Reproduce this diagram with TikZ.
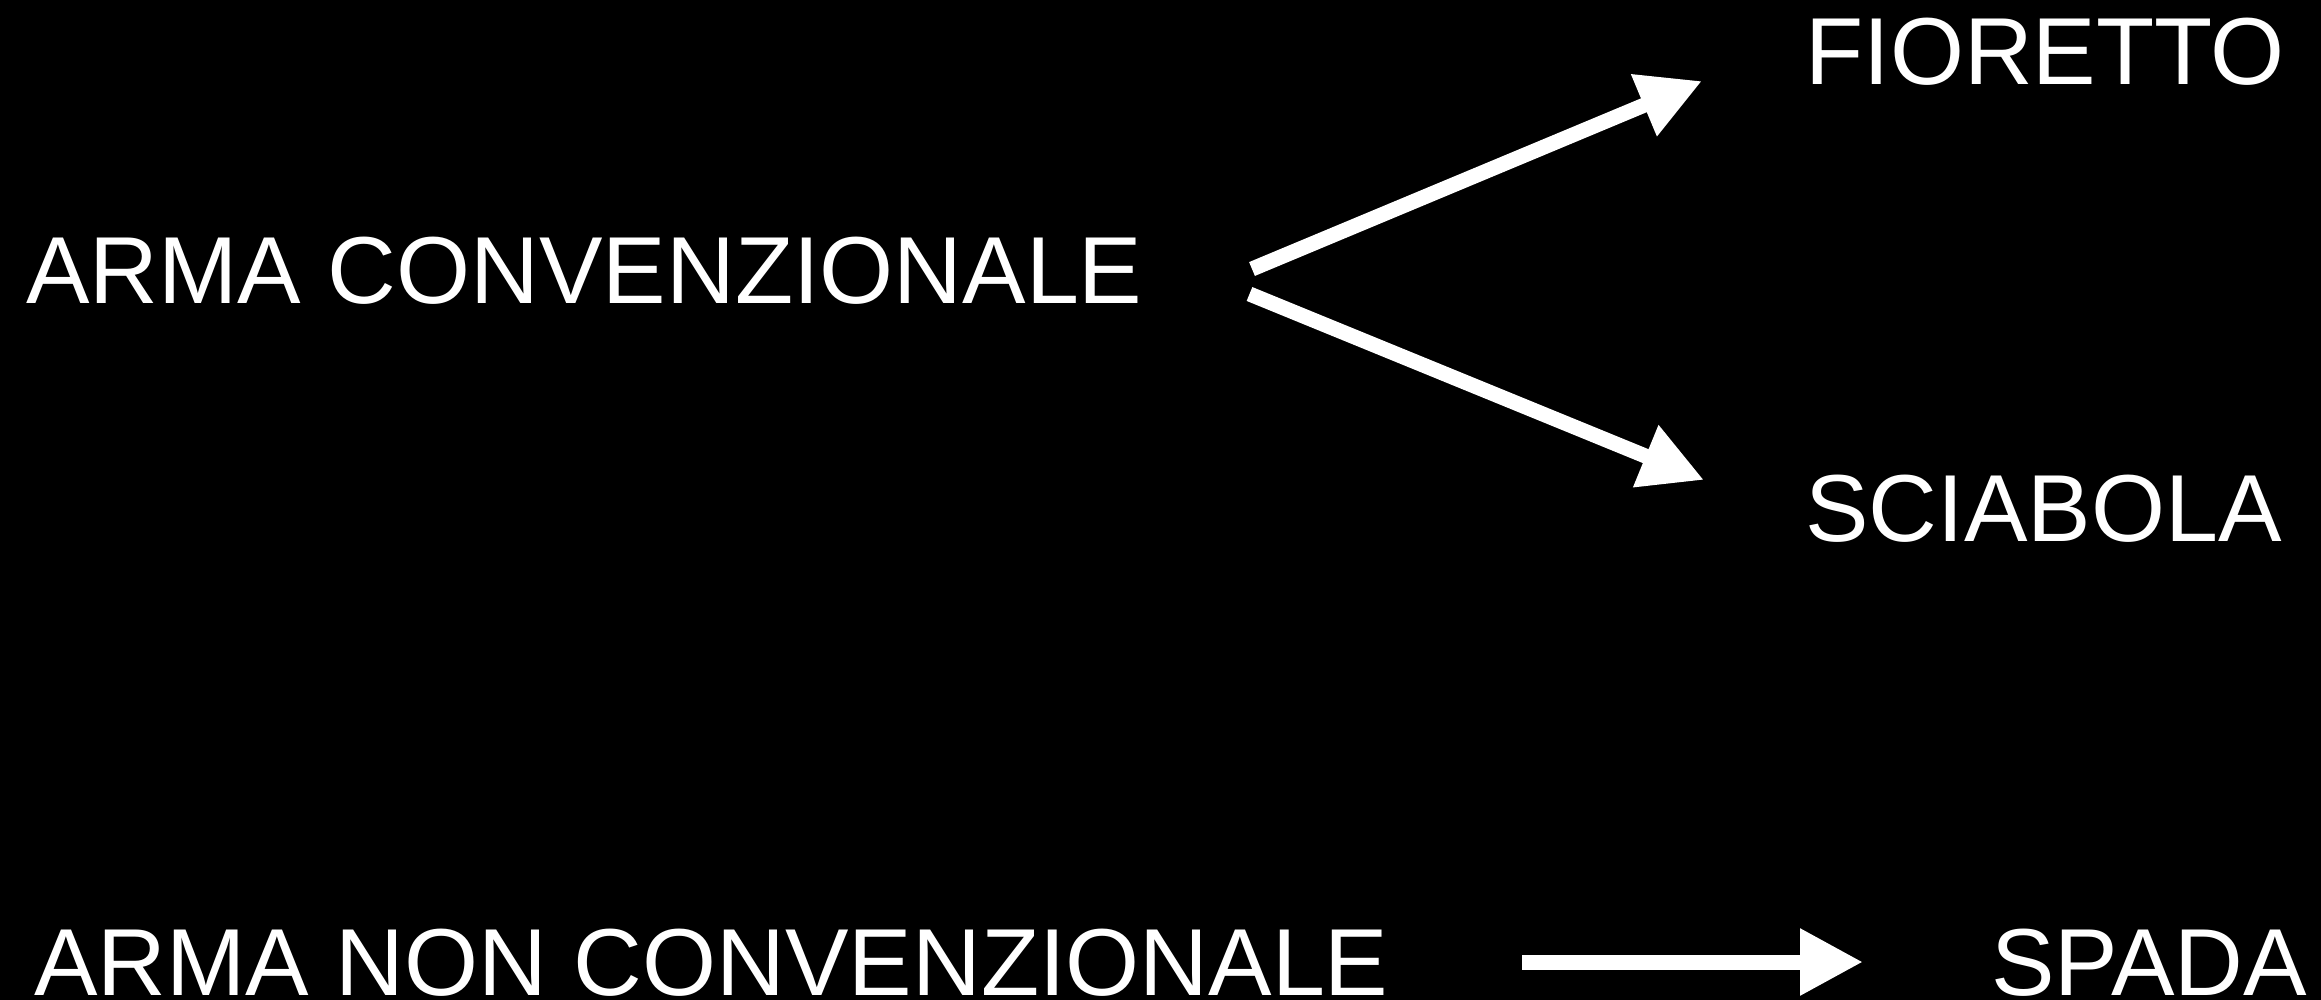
\documentclass[tikz,border=0pt]{standalone}
\usepackage{fontspec}
\setmainfont{Liberation Sans}
\usetikzlibrary{arrows.meta}
\begin{document}
\begin{tikzpicture}[x=0.5pt,y=-0.5pt,
  lbl/.style={text=white,font=\fontsize{47.6}{57}\selectfont,inner sep=0pt,text depth=0pt,anchor=base west},
  arr/.style={draw=white,line width=7.5pt,-{Triangle[length=31.5pt,width=31.5pt,fill=white]}}]
\fill[black] (0,0) rectangle (2321,1000);
\useasboundingbox (0,0) rectangle (2321,1000);
\node[lbl] (conv) at (26,303) {ARMA CONVENZIONALE};
\node[lbl] (fior) at (1805,85) {FIORETTO};
\node[lbl] (scia) at (1805,541) {SCIABOLA};
\node[lbl] (nonconv) at (34,995) {ARMA NON CONVENZIONALE};
\node[lbl] (spada) at (1991,995) {SPADA};
\coordinate (convout1) at (1252,269);
\coordinate (convout2) at (1249.5,294);
\coordinate (fiorin) at (1702,81);
\coordinate (sciain) at (1704,480);
\coordinate (nonconvout) at (1522,962);
\coordinate (spadain) at (1863,962);
\draw[arr] (convout1) -- (fiorin);
\draw[arr] (convout2) -- (sciain);
\draw[arr] (nonconvout) -- (spadain);
\end{tikzpicture}
\end{document}
